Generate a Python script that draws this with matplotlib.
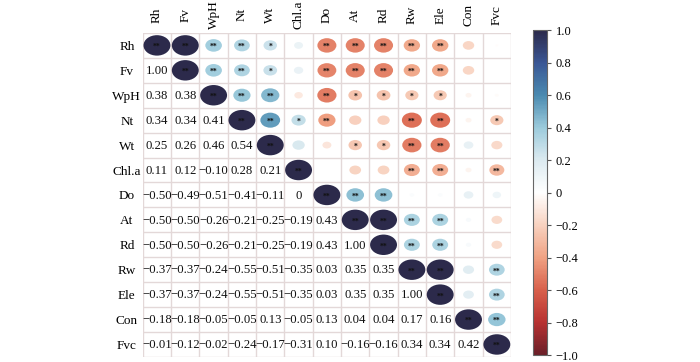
import numpy as np
import matplotlib
matplotlib.use("Agg")
import matplotlib.pyplot as plt
from matplotlib.patches import Ellipse
from matplotlib.colors import LinearSegmentedColormap, Normalize

plt.rcParams['font.family'] = ['Liberation Serif', 'DejaVu Serif']

labels = ['Rh', 'Fv', 'WpH', 'Nt', 'Wt', 'Chl.a', 'Do', 'At', 'Rd', 'Rw', 'Ele', 'Con', 'Fvc']

# lower triangle of the correlation matrix, row by row
lower = [
    [],
    [1.00],
    [0.38, 0.38],
    [0.34, 0.34, 0.41],
    [0.25, 0.26, 0.46, 0.54],
    [0.11, 0.12, -0.10, 0.28, 0.21],
    [-0.50, -0.49, -0.51, -0.41, -0.11, 0.00],
    [-0.50, -0.50, -0.26, -0.21, -0.25, -0.19, 0.43],
    [-0.50, -0.50, -0.26, -0.21, -0.25, -0.19, 0.43, 1.00],
    [-0.37, -0.37, -0.24, -0.55, -0.51, -0.35, 0.03, 0.35, 0.35],
    [-0.37, -0.37, -0.24, -0.55, -0.51, -0.35, 0.03, 0.35, 0.35, 1.00],
    [-0.18, -0.18, -0.05, -0.05, 0.13, -0.05, 0.13, 0.04, 0.04, 0.17, 0.16],
    [-0.01, -0.12, -0.02, -0.24, -0.17, -0.31, 0.10, -0.16, -0.16, 0.34, 0.34, 0.42],
]

# significance marks, same layout as lower
sig = [
    [],
    ['**'],
    ['**', '**'],
    ['**', '**', '**'],
    ['*', '*', '**', '**'],
    ['', '', '', '*', ''],
    ['**', '**', '**', '**', '', ''],
    ['**', '**', '*', '', '*', '', '**'],
    ['**', '**', '*', '', '*', '', '**', '**'],
    ['**', '**', '*', '**', '**', '**', '', '**', '**'],
    ['**', '**', '*', '**', '**', '**', '', '**', '**', '**'],
    ['', '', '', '', '', '', '', '', '', '', ''],
    ['', '', '', '*', '', '**', '', '', '', '**', '**', '**'],
]

# upper-triangle cell that the original leaves blank (Fv row, Fvc column)
upper_blank = [('Fv', 'Fvc')]

n = len(labels)
corr = np.eye(n)
for i, row in enumerate(lower):
    for j, v in enumerate(row):
        corr[i, j] = v
        corr[j, i] = v
upper = corr.copy()
for a, b in upper_blank:
    upper[labels.index(a), labels.index(b)] = 0.0

cmap = LinearSegmentedColormap.from_list('corr', [
    (0.0, '#6a1f28'), (0.1, '#b83232'), (0.2, '#d8604b'), (0.3, '#f0a283'),
    (0.4, '#f8d2c0'), (0.5, '#ffffff'), (0.6, '#dceaf0'), (0.7, '#9ccbdc'),
    (0.8, '#4a8ab0'), (0.9, '#3a5795'), (1.0, '#2c2a4b')])
norm = Normalize(-1, 1)

fig = plt.figure(figsize=(7, 3.62), dpi=100)
ax = fig.add_axes([0.204, 0.014, 0.526, 0.895])
ax.set_xlim(-0.5, n - 0.5)
ax.set_ylim(n - 0.5, -0.5)

grid_c = '#e3d8d8'
for k in range(n + 1):
    ax.axhline(k - 0.5, color=grid_c, lw=1, zorder=1)
    ax.axvline(k - 0.5, color=grid_c, lw=1, zorder=1)
for s in ax.spines.values():
    s.set_visible(False)

def fmt(v):
    if v == 0:
        return '0'
    return f'{v:.2f}'.replace('-', '\u2212')

for i in range(n):
    for j in range(n):
        if j < i:
            ax.text(j, i + 0.03, fmt(corr[i, j]), ha='center', va='center',
                    fontsize=9.2, color='#111111')
        else:
            r = upper[i, j]
            a = np.sqrt(abs(r))
            e = Ellipse((j, i), 0.95 * a, 0.82 * a, facecolor=cmap(norm(r)),
                        edgecolor='none', clip_on=False, zorder=2)
            ax.add_patch(e)
            mark = '**' if i == j else sig[j][i]
            if mark:
                ax.text(j, i + 0.07, mark, ha='center', va='center', fontsize=5.5,
                        fontweight='bold', color='#111111', zorder=3)

ax.set_xticks(range(n))
ax.set_yticks(range(n))
ax.set_xticklabels(labels, rotation=90, fontsize=9.5, va='center')
ax.set_yticklabels(labels, fontsize=9.5, ha='center')
ax.xaxis.tick_top()
ax.tick_params(axis='y', length=0, pad=11.5)
ax.tick_params(axis='x', length=0, pad=13)

cax = fig.add_axes([0.761, 0.019, 0.02, 0.898])
sm = plt.cm.ScalarMappable(norm=norm, cmap=cmap)
cb = fig.colorbar(sm, cax=cax)
ticks = [1.0, 0.8, 0.6, 0.4, 0.2, 0, -0.2, -0.4, -0.6, -0.8, -1.0]
cb.set_ticks(ticks)
cb.set_ticklabels(['1.0', '0.8', '0.6', '0.4', '0.2', '0', '\u22120.2', '\u22120.4',
                   '\u22120.6', '\u22120.8', '\u22121.0'])
cb.ax.tick_params(labelsize=9, length=3, width=0.8, color='#555555')
cb.outline.set_edgecolor('#666666')
cb.outline.set_linewidth(0.8)

fig.savefig('out.png', dpi=100)
